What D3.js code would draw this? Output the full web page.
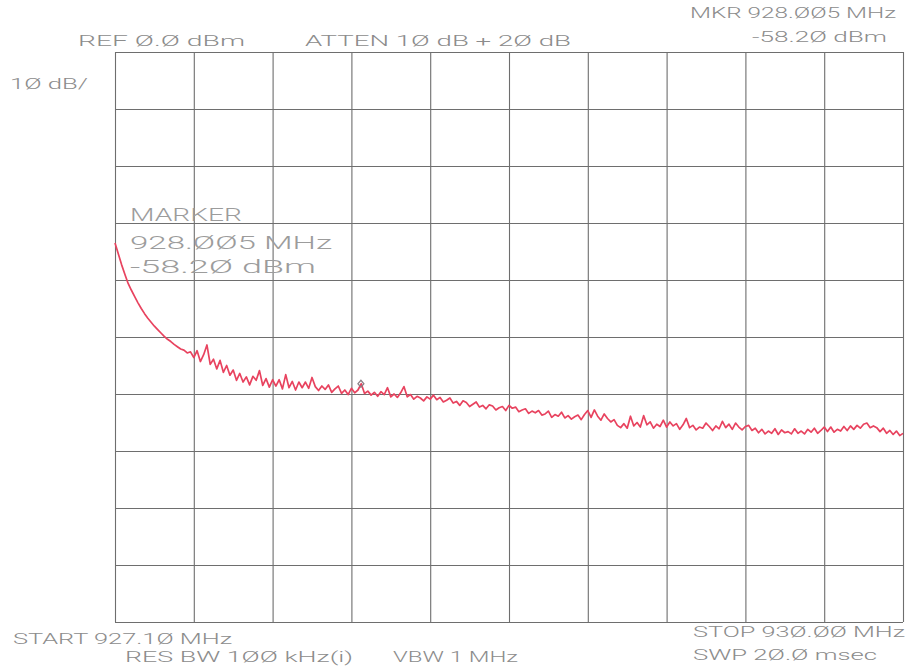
<!DOCTYPE html>
<html>
<head>
<meta charset="utf-8">
<script src="https://cdn.jsdelivr.net/npm/d3@7"></script>
<style>
  html, body { margin: 0; padding: 0; background: #fff; }
  svg { display: block; }
  .ann { font-family: Roboto, "DejaVu Sans", sans-serif; font-weight: 300; fill: #8c8c8c; }
  .ann.big { fill: #9c9c9c; }
</style>
</head>
<body>
<svg id="chart" width="909" height="668"></svg>
<script>
// Sweep settings (MHz) and display scale (dBm)
const startFreq = 927.10;
const stopFreq = 930.00;
const refLevel = 0.0;
const dbPerDiv = 10;
const xDivisions = 10;
const yDivisions = 10;

// Marker readout
const markerFreq = 928.005;
const markerLevel = -58.20;

// Measured trace levels (dBm), one per sweep point, evenly spaced from start to stop
const traceLevels = [
  -33.5, -35.4, -37.3, -39.0, -40.6, -41.8, -42.9, -44.0, -45.0, -45.9, -46.7, -47.4,
  -48.1, -48.7, -49.3, -49.9, -50.4, -50.8, -51.3, -51.7, -52.1, -52.3, -52.8, -52.6,
  -53.6, -52.4, -54.3, -53.1, -51.4, -54.8, -53.9, -55.6, -54.1, -56.2, -55.0, -56.7,
  -55.8, -57.6, -56.4, -57.9, -57.0, -58.4, -56.9, -57.6, -55.9, -58.5, -57.3, -58.8, -57.5,
  -58.6, -57.5, -59.1, -56.6, -58.9, -57.8, -59.3, -57.9, -58.9,
  -57.9, -59.0, -57.1, -58.7, -59.4, -58.6, -59.2, -58.4, -59.7, -59.1, -58.6, -59.9, -59.3, -60.1, -59.0,
  -59.8, -59.3, -58.2, -59.9, -59.5, -60.2, -59.7, -60.4, -59.6, -60.1, -58.9, -60.5,
  -60.0, -60.6, -59.8, -58.7, -60.5, -60.1, -60.9, -60.4, -60.7, -61.2, -60.5, -60.9,
  -60.2, -61.0, -60.6, -61.4, -61.1, -60.7, -61.6, -61.3, -62.0, -61.2, -61.5, -62.2,
  -61.8, -61.4, -62.3, -62.0, -62.6, -61.9, -62.1, -62.8, -62.4, -62.2, -62.9,
  -62.0, -62.5, -62.3, -63.1, -62.8, -62.6, -63.4, -63.0, -63.3, -62.9, -63.7, -63.5,
  -63.0, -64.1, -63.6, -63.9, -63.2, -64.2, -63.8, -64.4, -64.0, -63.7, -64.5, -63.6, -62.9,
  -64.1, -62.8, -63.9, -64.6, -63.5, -64.3, -64.9, -64.5, -65.5, -65.9, -65.2, -66.0,
  -63.9, -65.6, -65.0, -65.8, -63.8, -65.4, -64.9, -66.0, -65.3, -65.7, -64.6, -65.8,
  -64.9, -65.6, -65.2, -66.2, -65.4, -64.3, -65.9, -65.5, -66.3, -65.8, -66.0, -65.1,
  -65.7, -66.4, -65.6, -66.1, -64.8, -65.9, -65.3, -66.2, -65.1, -65.8, -66.3, -65.7,
  -65.5, -66.4, -66.0, -66.8, -66.2, -67.0, -66.5, -66.9, -66.1, -67.1, -66.3, -66.8, -66.6, -67.0,
  -66.1, -66.9, -66.5, -67.0, -66.2, -66.7, -66.0, -66.9, -66.4, -65.8, -66.6,
  -65.8, -66.7, -66.2, -66.5, -65.7, -66.4, -65.6, -66.2, -65.5, -66.0, -65.3, -65.1, -65.9, -65.6,
  -65.9, -66.6, -66.0, -66.9, -66.4, -67.1, -66.5, -67.3, -66.9
];

// Instrument annotation settings
const attenInput = 10;
const attenExt = 20;
const resBwKHz = 100;
const vbwMHz = 1;
const sweepMs = 20.0;

// Plotter-style zero with a slash
const slash = s => s.replace(/0/g, "\u00D8");

const svg = d3.select("#chart");
const plotLeft = 115, plotRight = 903, plotTop = 52, plotBottom = 622;

const x = d3.scaleLinear().domain([startFreq, stopFreq]).range([plotLeft, plotRight]);
const y = d3.scaleLinear().domain([refLevel - dbPerDiv * yDivisions, refLevel]).range([plotBottom, plotTop]);

const xTicks = d3.range(xDivisions + 1).map(i => startFreq + (stopFreq - startFreq) * i / xDivisions);
const yTicks = d3.range(yDivisions + 1).map(i => refLevel - dbPerDiv * i);

// Graticule
const gx = svg.append("g")
  .attr("transform", `translate(0,${plotBottom})`)
  .call(d3.axisBottom(x).tickValues(xTicks).tickSize(-(plotBottom - plotTop)).tickFormat(""));
const gy = svg.append("g")
  .attr("transform", `translate(${plotLeft},0)`)
  .call(d3.axisLeft(y).tickValues(yTicks).tickSize(-(plotRight - plotLeft)).tickFormat(""));
[gx, gy].forEach(g => {
  g.select(".domain").remove();
  g.selectAll(".tick line").attr("stroke", "#6e6e6e").attr("stroke-width", 1.1);
});

// Trace
const step = (stopFreq - startFreq) / (traceLevels.length - 1);
const line = d3.line()
  .x((d, i) => x(startFreq + i * step))
  .y(d => y(d));
svg.append("path")
  .datum(traceLevels)
  .attr("fill", "none")
  .attr("stroke", "#e8435f")
  .attr("stroke-width", 1.7)
  .attr("stroke-linejoin", "round")
  .attr("d", line);

// Marker
const mx = x(markerFreq), my = y(markerLevel);
svg.append("path")
  .attr("d", `M${mx},${my - 3.5}L${mx + 3},${my}L${mx},${my + 3.5}L${mx - 3},${my}Z`)
  .attr("fill", "none")
  .attr("stroke", "#8a7f86")
  .attr("stroke-width", 1.2);

// Annotation text: [text, x, baseline, width, size]
const annotations = [
  [slash(`REF  ${refLevel.toFixed(1)} dBm`), 78, 46, 167, 14],
  [slash(`ATTEN ${attenInput} dB + ${attenExt} dB`), 305, 46, 266, 14],
  [slash(`MKR ${markerFreq.toFixed(3)} MHz`), 690, 18, 206, 14],
  [slash(`${markerLevel.toFixed(2)} dBm`), 752, 42, 135, 14],
  [slash(`${dbPerDiv} dB/`), 10, 89, 78, 14],
  ["MARKER", 130, 221, 112, 19],
  [slash(`${markerFreq.toFixed(3)} MHz`), 130, 249, 202, 19],
  [slash(`${markerLevel.toFixed(2)} dBm`), 130, 273, 186, 19],
  [slash(`START ${startFreq.toFixed(2)} MHz`), 13, 644, 219, 14],
  [slash(`RES BW ${resBwKHz} kHz(i)`), 125, 662, 228, 14],
  [slash(`VBW ${vbwMHz} MHz`), 393, 662, 125, 14],
  [slash(`STOP ${stopFreq.toFixed(2)} MHz`), 693, 637, 212, 14],
  [slash(`SWP ${sweepMs.toFixed(1)} msec`), 693, 660, 184, 14]
];

svg.append("g").selectAll("text")
  .data(annotations)
  .join("text")
  .attr("class", d => d[4] > 15 ? "ann big" : "ann")
  .attr("x", d => d[1])
  .attr("y", d => d[2])
  .attr("textLength", d => d[3])
  .attr("lengthAdjust", "spacingAndGlyphs")
  .attr("font-size", d => d[4])
  .text(d => d[0]);
</script>
</body>
</html>
